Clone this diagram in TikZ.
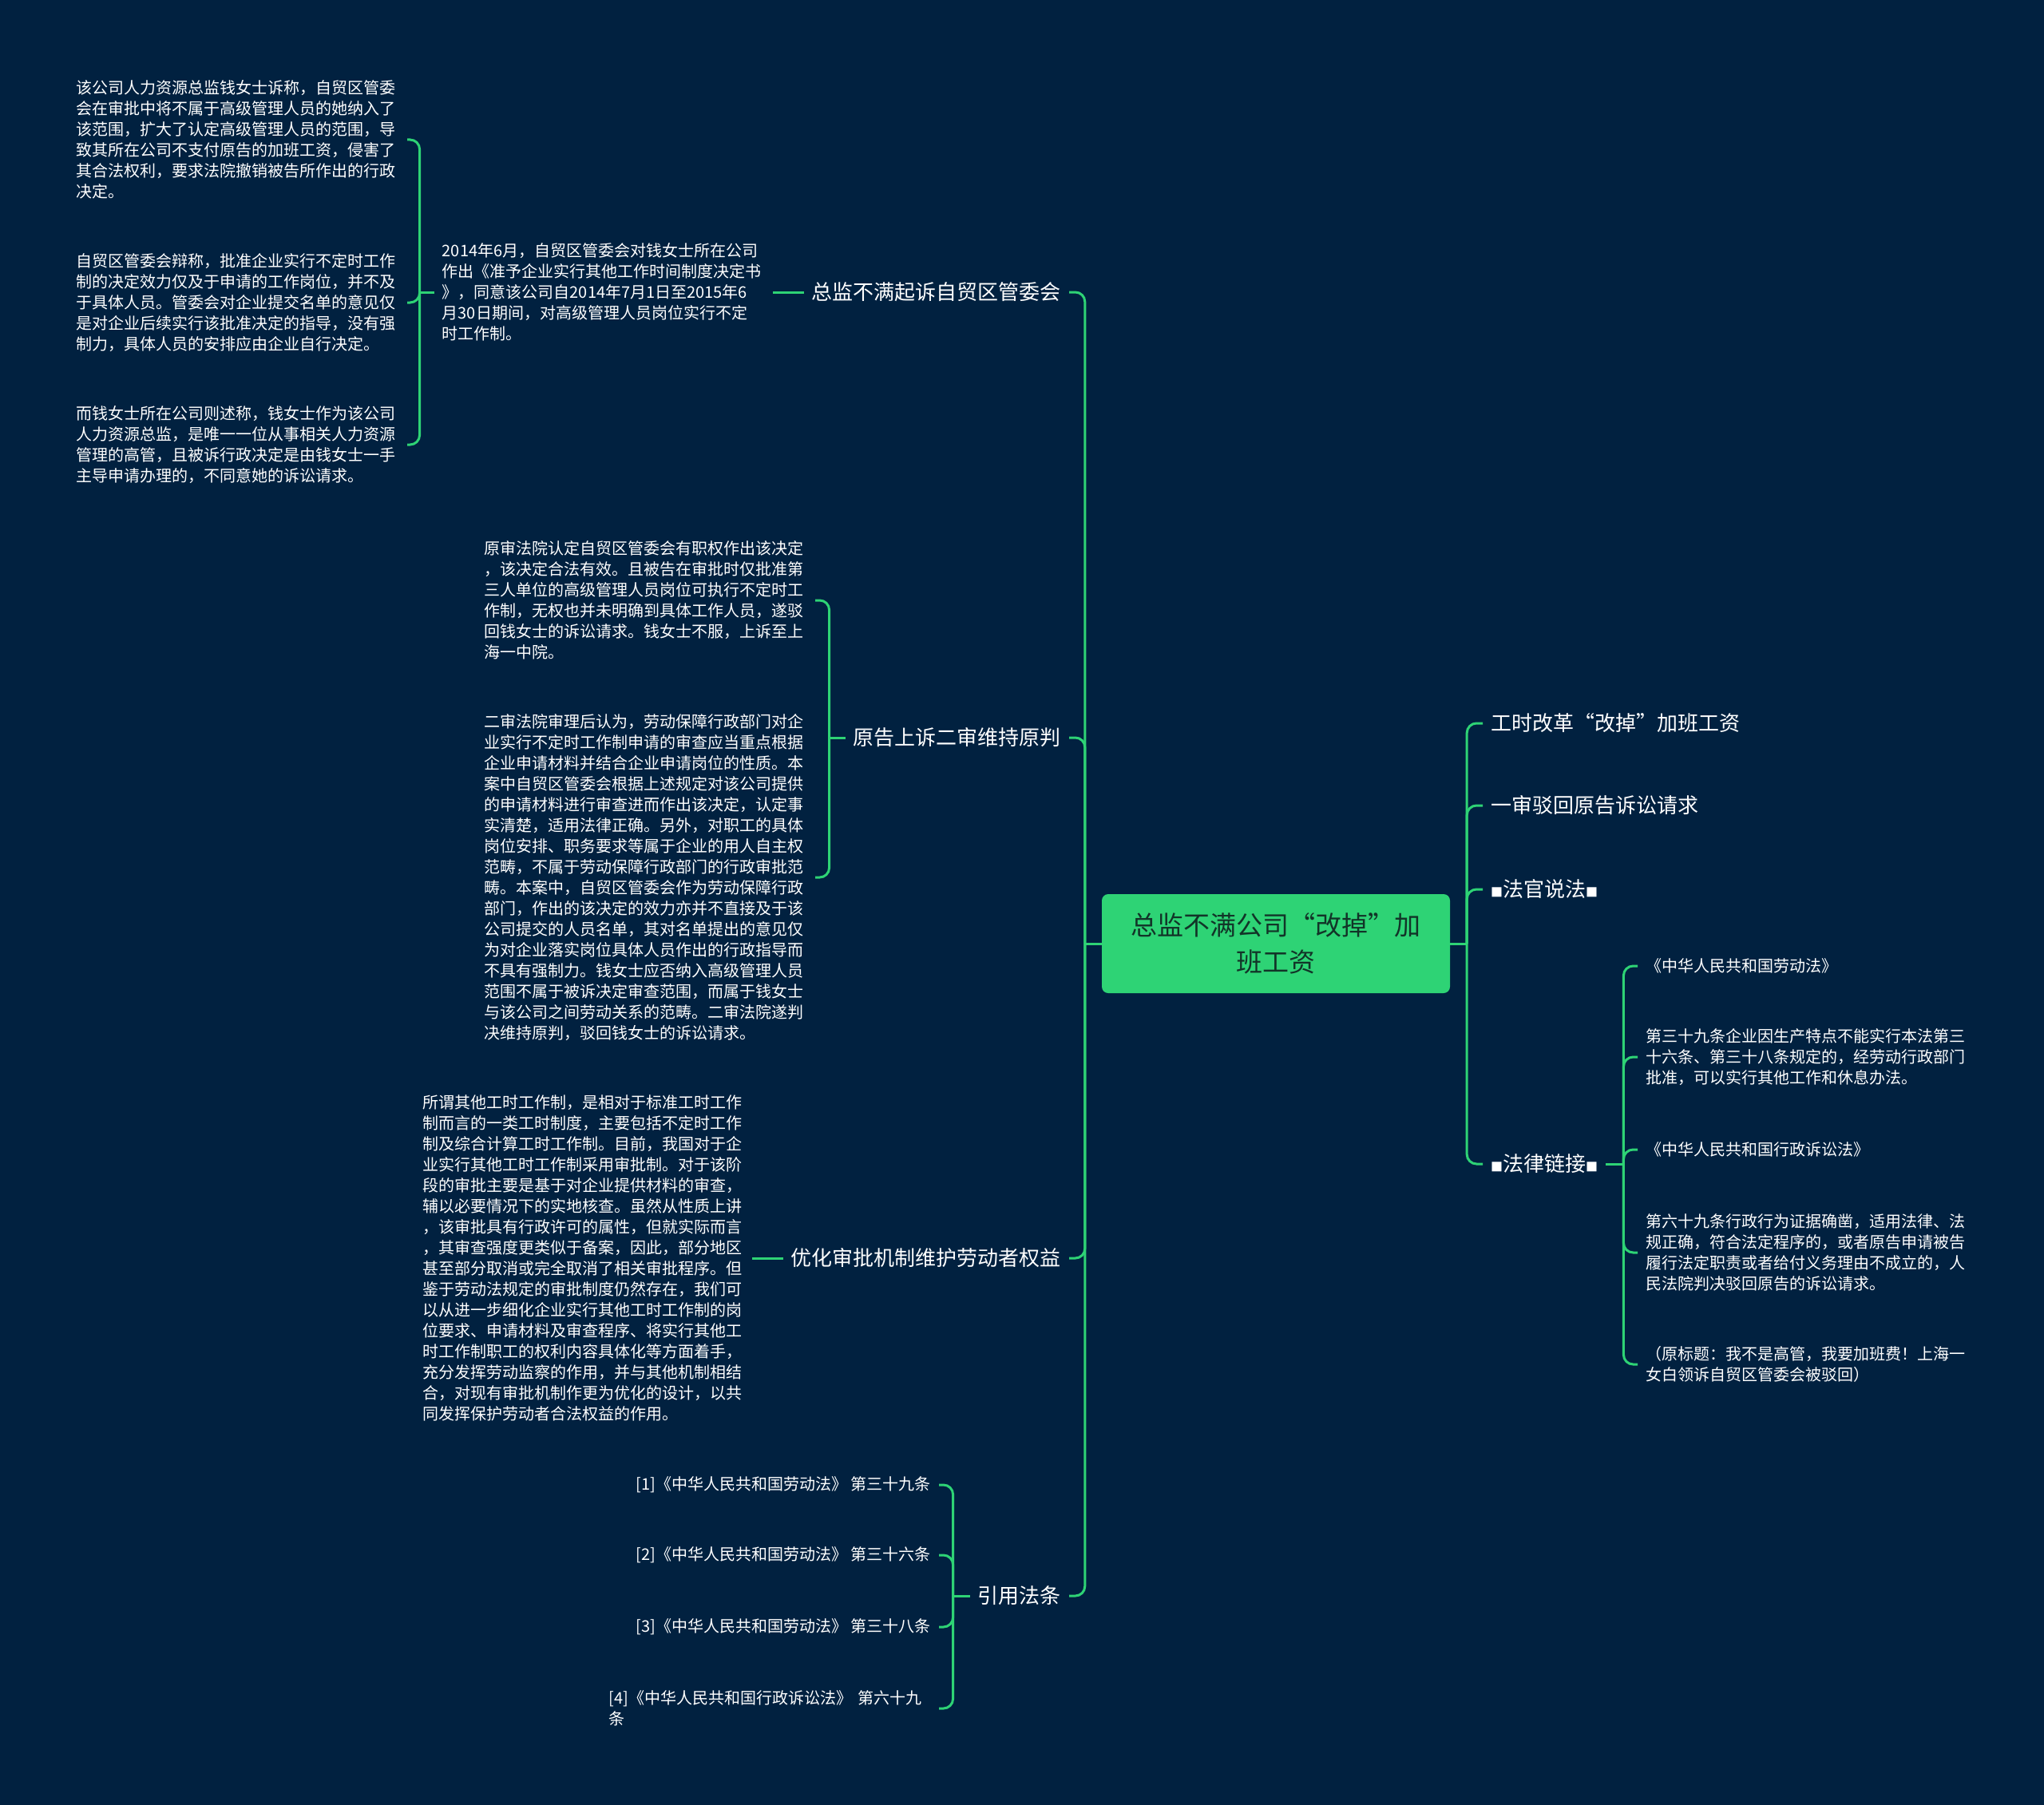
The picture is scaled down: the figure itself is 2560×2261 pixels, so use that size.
\documentclass[tikz,border=0pt]{standalone}
\usepackage{fontspec}
\setmainfont{Noto Sans CJK SC}
\usepackage{tikz}
\definecolor{Navy}{RGB}{1,33,64}
\definecolor{Mint}{RGB}{46,211,117}
\definecolor{Ink}{RGB}{18,52,40}
\newcommand{\blk}{{\fontsize{15}{15}\selectfont ■}}

\begin{document}
\begin{tikzpicture}[
        x=1pt, y=-1pt,
        link/.style={draw=Mint, line width=3pt, rounded corners=12pt},
        main_topic/.style={fill=Mint, rounded corners=8pt, text=Ink, font=\fontsize{33}{46}\selectfont, align=center, minimum width=436pt, minimum height=124pt, inner sep=0pt},
        branch/.style={text=white, font=\fontsize{26}{34}\selectfont, inner xsep=10pt, inner ysep=2pt},
        leaf_text/.style={text=white, font=\fontsize{20}{26}\selectfont, align=left, inner xsep=10pt, inner ysep=2pt}
    ]
        % Fondo y marco (2560 x 2261)
        \fill[Navy] (0,0) rectangle (2560,2261);
        \useasboundingbox (0,0) rectangle (2560,2261);

        % Tema central
        \node[main_topic] (tema) at (1598,1182) {总监不满公司“改掉”加\\班工资};
        \coordinate (lbus) at ([xshift=-21pt]tema.west);
        \coordinate (rbus) at ([xshift=21pt]tema.east);

        % Ramas izquierdas
        \node[branch, anchor=east] (qisu) at (1339,366) {总监不满起诉自贸区管委会};
        \node[branch, anchor=east] (shangsu) at (1339,924) {原告上诉二审维持原判};
        \node[branch, anchor=east] (youhua) at (1339,1576) {优化审批机制维护劳动者权益};
        \node[branch, anchor=east] (fatiao) at (1339,1999) {引用法条};

        % Ramas derechas
        \node[branch, anchor=west] (gaige) at (1857,906) {工时改革“改掉”加班工资};
        \node[branch, anchor=west] (yishen) at (1857,1009) {一审驳回原告诉讼请求};
        \node[branch, anchor=west] (faguan) at (1857,1114) {\blk 法官说法\blk};
        \node[branch, anchor=west] (lianjie) at (1857,1458) {\blk 法律链接\blk};

        % Rama: total起诉
        \node[leaf_text, text width=404pt, anchor=east] (juedingshu) at (968,366) {2014年6月，自贸区管委会对钱女士所在公司\\作出《准予企业实行其他工作时间制度决定书\\》，同意该公司自2014年7月1日至2015年6\\月30日期间，对高级管理人员岗位实行不定\\时工作制。};
        \node[leaf_text, text width=404pt, anchor=east] (suchen) at (510,175) {该公司人力资源总监钱女士诉称，自贸区管委\\会在审批中将不属于高级管理人员的她纳入了\\该范围，扩大了认定高级管理人员的范围，导\\致其所在公司不支付原告的加班工资，侵害了\\其合法权利，要求法院撤销被告所作出的行政\\决定。};
        \node[leaf_text, text width=404pt, anchor=east] (bianchen) at (510,379) {自贸区管委会辩称，批准企业实行不定时工作\\制的决定效力仅及于申请的工作岗位，并不及\\于具体人员。管委会对企业提交名单的意见仅\\是对企业后续实行该批准决定的指导，没有强\\制力，具体人员的安排应由企业自行决定。};
        \node[leaf_text, text width=404pt, anchor=east] (shuchen) at (510,557) {而钱女士所在公司则述称，钱女士作为该公司\\人力资源总监，是唯一一位从事相关人力资源\\管理的高管，且被诉行政决定是由钱女士一手\\主导申请办理的，不同意她的诉讼请求。};

        % Rama: 上诉
        \node[leaf_text, text width=404pt, anchor=east] (yuanshen) at (1021,752) {原审法院认定自贸区管委会有职权作出该决定\\，该决定合法有效。且被告在审批时仅批准第\\三人单位的高级管理人员岗位可执行不定时工\\作制，无权也并未明确到具体工作人员，遂驳\\回钱女士的诉讼请求。钱女士不服，上诉至上\\海一中院。};
        \node[leaf_text, text width=404pt, anchor=east] (ershen) at (1021,1099) {二审法院审理后认为，劳动保障行政部门对企\\业实行不定时工作制申请的审查应当重点根据\\企业申请材料并结合企业申请岗位的性质。本\\案中自贸区管委会根据上述规定对该公司提供\\的申请材料进行审查进而作出该决定，认定事\\实清楚，适用法律正确。另外，对职工的具体\\岗位安排、职务要求等属于企业的用人自主权\\范畴，不属于劳动保障行政部门的行政审批范\\畴。本案中，自贸区管委会作为劳动保障行政\\部门，作出的该决定的效力亦并不直接及于该\\公司提交的人员名单，其对名单提出的意见仅\\为对企业落实岗位具体人员作出的行政指导而\\不具有强制力。钱女士应否纳入高级管理人员\\范围不属于被诉决定审查范围，而属于钱女士\\与该公司之间劳动关系的范畴。二审法院遂判\\决维持原判，驳回钱女士的诉讼请求。};

        % Rama: 优化
        \node[leaf_text, text width=402pt, anchor=east] (gongshi) at (942,1576) {所谓其他工时工作制，是相对于标准工时工作\\制而言的一类工时制度，主要包括不定时工作\\制及综合计算工时工作制。目前，我国对于企\\业实行其他工时工作制采用审批制。对于该阶\\段的审批主要是基于对企业提供材料的审查，\\辅以必要情况下的实地核查。虽然从性质上讲\\，该审批具有行政许可的属性，但就实际而言\\，其审查强度更类似于备案，因此，部分地区\\甚至部分取消或完全取消了相关审批程序。但\\鉴于劳动法规定的审批制度仍然存在，我们可\\以从进一步细化企业实行其他工时工作制的岗\\位要求、申请材料及审查程序、将实行其他工\\时工作制职工的权利内容具体化等方面着手，\\充分发挥劳动监察的作用，并与其他机制相结\\合，对现有审批机制作更为优化的设计，以共\\同发挥保护劳动者合法权益的作用。};

        % Rama: 引用法条
        \node[leaf_text, anchor=east] (ref1) at (1176,1860) {[1]《中华人民共和国劳动法》 第三十九条};
        \node[leaf_text, anchor=east] (ref2) at (1176,1948) {[2]《中华人民共和国劳动法》 第三十六条};
        \node[leaf_text, anchor=east] (ref3) at (1176,2038) {[3]《中华人民共和国劳动法》 第三十八条};
        \node[leaf_text, text width=403pt, anchor=east] (ref4) at (1176,2140) {[4]《中华人民共和国行政诉讼法》 第六十九\\条};

        % Rama: 法律链接
        \node[leaf_text, text width=405pt, anchor=west] (ley1) at (2051,1210) {《中华人民共和国劳动法》};
        \node[leaf_text, text width=405pt, anchor=west] (art39) at (2051,1324) {第三十九条企业因生产特点不能实行本法第三\\十六条、第三十八条规定的，经劳动行政部门\\批准，可以实行其他工作和休息办法。};
        \node[leaf_text, text width=405pt, anchor=west] (ley2) at (2051,1440) {《中华人民共和国行政诉讼法》};
        \node[leaf_text, text width=405pt, anchor=west] (art69) at (2051,1569) {第六十九条行政行为证据确凿，适用法律、法\\规正确，符合法定程序的，或者原告申请被告\\履行法定职责或者给付义务理由不成立的，人\\民法院判决驳回原告的诉讼请求。};
        \node[leaf_text, text width=405pt, anchor=west] (biaoti) at (2051,1709) {（原标题：我不是高管，我要加班费！上海一\\女白领诉自贸区管委会被驳回）};

        % Conectores del tema central
        \draw[link] (tema.west) -- (lbus);
        \draw[link] (tema.east) -- (rbus);
        \foreach \n in {qisu,shangsu,youhua,fatiao}
            \draw[link] (lbus) |- (\n.east);
        \foreach \n in {gaige,yishen,faguan,lianjie}
            \draw[link] (rbus) |- (\n.west);

        % Conectores de segundo nivel
        \draw[link] (qisu.west) -- (juedingshu.east);
        \coordinate (k_qisu) at ([xshift=-18pt]juedingshu.west);
        \draw[link] (juedingshu.west) -- (k_qisu);
        \foreach \n in {suchen,bianchen,shuchen}
            \draw[link] (k_qisu) |- (\n.east);

        \coordinate (k_shangsu) at ([xshift=-20pt]shangsu.west);
        \draw[link] (shangsu.west) -- (k_shangsu);
        \foreach \n in {yuanshen,ershen}
            \draw[link] (k_shangsu) |- (\n.east);

        \draw[link] (youhua.west) -- (gongshi.east);

        \coordinate (k_fatiao) at ([xshift=-21pt]fatiao.west);
        \draw[link] (fatiao.west) -- (k_fatiao);
        \foreach \n in {ref1,ref2,ref3,ref4}
            \draw[link] (k_fatiao) |- (\n.east);

        \coordinate (k_lianjie) at ([xshift=22pt]lianjie.east);
        \draw[link] (lianjie.east) -- (k_lianjie);
        \foreach \n in {ley1,art39,ley2,art69,biaoti}
            \draw[link] (k_lianjie) |- (\n.west);
    \end{tikzpicture}
\end{document}
